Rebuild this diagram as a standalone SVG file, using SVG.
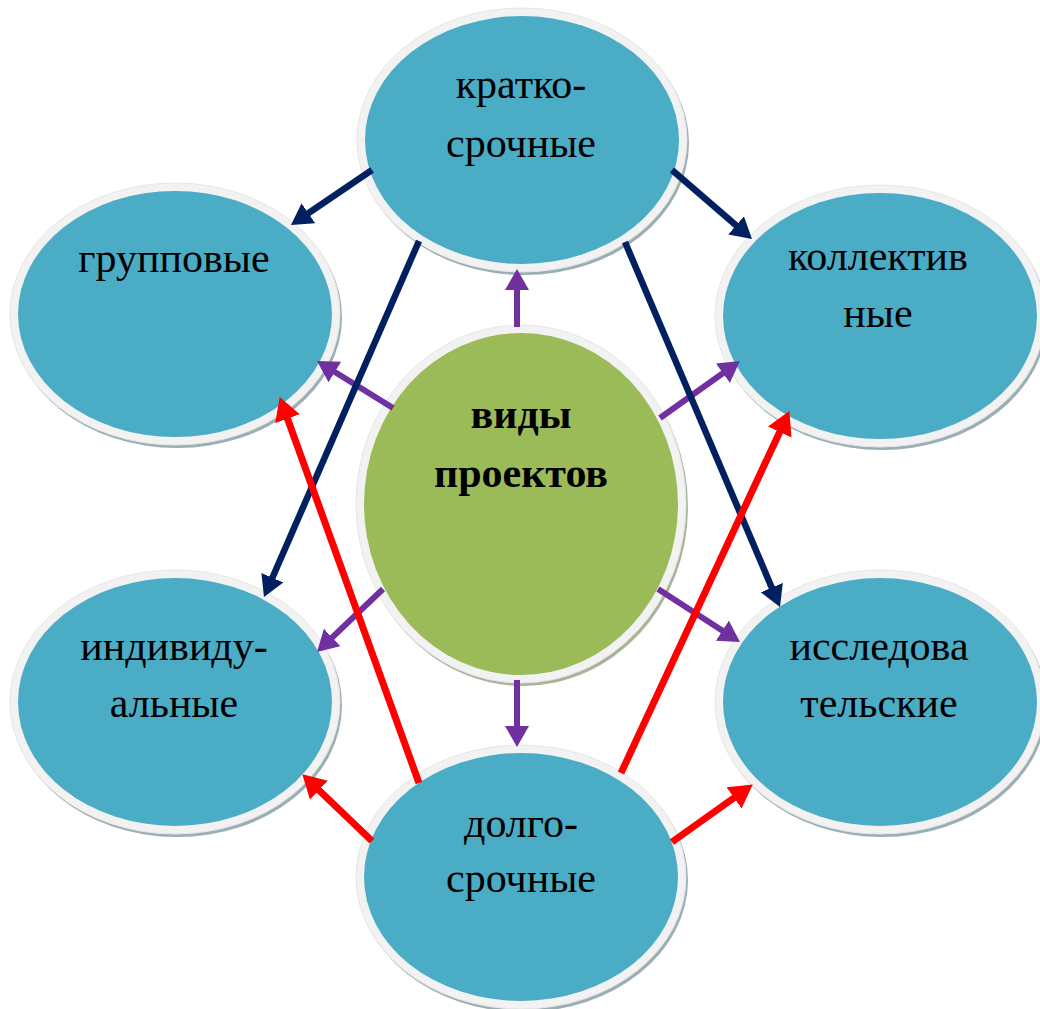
<svg xmlns="http://www.w3.org/2000/svg" width="1040" height="1009" viewBox="0 0 1040 1009">
<defs>
<style>
.sh{fill:#9aaeb5}
.shg{fill:#a9b39a}
.ring{fill:#f2f2f2;stroke:#e6e6e6;stroke-width:1}
.blue{fill:#4bacc6}
.green{fill:#9bbb59}
.t{font-family:"Liberation Serif","Times New Roman",serif;font-size:42px;fill:#000;text-anchor:middle}
.b{font-weight:bold}
.nv{stroke:#002060;stroke-width:6.5;fill:none}
.pu{stroke:#7030a0;stroke-width:6;fill:none}
.rd{stroke:#ff0000;stroke-width:7;fill:none}
</style>
<marker id="an" markerUnits="userSpaceOnUse" markerWidth="22" markerHeight="26" refX="9" refY="12" orient="auto"><path d="M0,0 L21,12 L0,24 z" fill="#002060"/></marker>
<marker id="ap" markerUnits="userSpaceOnUse" markerWidth="22" markerHeight="26" refX="9" refY="12" orient="auto"><path d="M0,0 L21,12 L0,24 z" fill="#7030a0"/></marker>
<marker id="ar" markerUnits="userSpaceOnUse" markerWidth="24" markerHeight="28" refX="10" refY="13" orient="auto"><path d="M0,0 L23,13 L0,26 z" fill="#ff0000"/></marker>
</defs>
<rect width="1040" height="1009" fill="#ffffff"/>

<g id="n-top">
<ellipse class="sh" cx="524" cy="143" rx="165" ry="132"/>
<ellipse class="ring" cx="522" cy="140" rx="165" ry="132"/>
<ellipse class="blue" cx="522" cy="140" rx="157" ry="124"/>
<text class="t" x="521" y="98">кратко-</text>
<text class="t" x="521" y="157">срочные</text>
</g>

<g id="n-group">
<ellipse class="sh" cx="177" cy="317" rx="165" ry="131"/>
<ellipse class="ring" cx="175" cy="314" rx="165" ry="131"/>
<ellipse class="blue" cx="175" cy="314" rx="157" ry="123"/>
<text class="t" x="174" y="272">групповые</text>
</g>

<g id="n-collective">
<ellipse class="sh" cx="882" cy="319" rx="165" ry="131"/>
<ellipse class="ring" cx="880" cy="316" rx="165" ry="131"/>
<ellipse class="blue" cx="880" cy="316" rx="157" ry="123"/>
<text class="t" x="878" y="270">коллектив</text>
<text class="t" x="878" y="327">ные</text>
</g>

<g id="n-center">
<ellipse class="shg" cx="523" cy="507" rx="165" ry="179"/>
<ellipse class="ring" cx="521" cy="504" rx="165" ry="179"/>
<ellipse class="green" cx="521" cy="504" rx="157" ry="171"/>
<text class="t b" x="521" y="428">виды</text>
<text class="t b" x="521" y="487">проектов</text>
</g>

<g id="n-individual">
<ellipse class="sh" cx="177" cy="705" rx="165" ry="132"/>
<ellipse class="ring" cx="175" cy="702" rx="165" ry="132"/>
<ellipse class="blue" cx="175" cy="702" rx="157" ry="124"/>
<text class="t" x="174" y="660">индивиду-</text>
<text class="t" x="174" y="717">альные</text>
</g>

<g id="n-research">
<ellipse class="sh" cx="882" cy="705" rx="165" ry="132"/>
<ellipse class="ring" cx="880" cy="702" rx="165" ry="132"/>
<ellipse class="blue" cx="880" cy="702" rx="157" ry="124"/>
<text class="t" x="879" y="660">исследова</text>
<text class="t" x="879" y="717">тельские</text>
</g>

<g id="n-bottom">
<ellipse class="sh" cx="523" cy="880" rx="165" ry="132"/>
<ellipse class="ring" cx="521" cy="877" rx="165" ry="132"/>
<ellipse class="blue" cx="521" cy="877" rx="157" ry="124"/>
<text class="t" x="521" y="837">долго-</text>
<text class="t" x="521" y="892">срочные</text>
</g>

<g id="connectors">
<line class="pu" x1="517" y1="327" x2="517" y2="281" marker-end="url(#ap)"/>
<line class="pu" x1="393" y1="408" x2="327.2" y2="367.3" marker-end="url(#ap)"/>
<line class="pu" x1="660" y1="418" x2="730.2" y2="368" marker-end="url(#ap)"/>
<line class="pu" x1="383" y1="589" x2="325.7" y2="643.7" marker-end="url(#ap)"/>
<line class="pu" x1="658" y1="589" x2="729.9" y2="635.5" marker-end="url(#ap)"/>
<line class="pu" x1="517" y1="680" x2="517" y2="735" marker-end="url(#ap)"/>

<line class="nv" x1="372" y1="170" x2="300.9" y2="218.3" marker-end="url(#an)"/>
<line class="nv" x1="672" y1="170" x2="742.9" y2="231.2" marker-end="url(#an)"/>
<line class="nv" x1="419" y1="241" x2="268.8" y2="586" marker-end="url(#an)"/>
<line class="nv" x1="625" y1="242" x2="775.3" y2="595.9" marker-end="url(#an)"/>

<line class="rd" x1="419" y1="783" x2="284.1" y2="409.3" marker-end="url(#ar)"/>
<line class="rd" x1="621" y1="773" x2="783.9" y2="422.9" marker-end="url(#ar)"/>
<line class="rd" x1="372" y1="841" x2="311.7" y2="783.3" marker-end="url(#ar)"/>
<line class="rd" x1="672" y1="842" x2="742.2" y2="792" marker-end="url(#ar)"/>
</g>
</svg>
